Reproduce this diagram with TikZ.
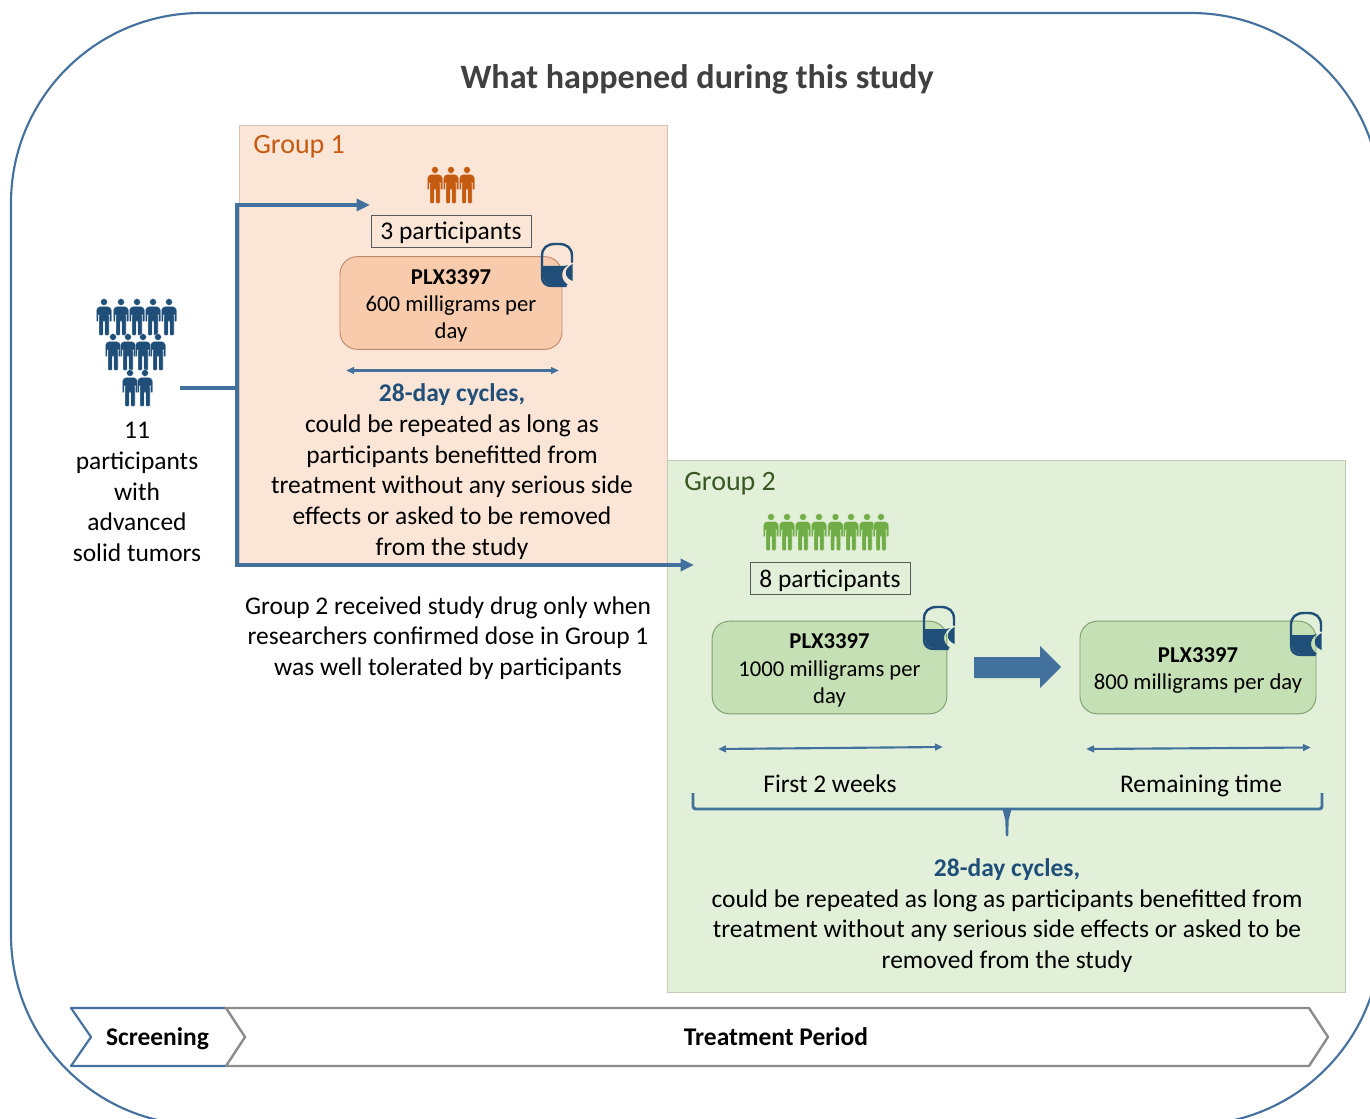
\documentclass[tikz,border=0pt]{standalone}
\usepackage{fontspec}
\setmainfont{Carlito}
\usetikzlibrary{arrows.meta}
\definecolor{linkblue}{HTML}{41719C}
\definecolor{darkblue}{HTML}{1F4E79}
\definecolor{frameblue}{HTML}{44719E}
\definecolor{orangebg}{HTML}{FBE5D6}
\definecolor{orangebox}{HTML}{F8CBAD}
\definecolor{orangeedge}{HTML}{BE8A6C}
\definecolor{orangeman}{HTML}{C55A11}
\definecolor{orangetxt}{HTML}{C55A11}
\definecolor{greenbg}{HTML}{E2F0D9}
\definecolor{greenbox}{HTML}{C5E0B4}
\definecolor{greenedge}{HTML}{7F9F6F}
\definecolor{greenman}{HTML}{70AD47}
\definecolor{greentxt}{HTML}{385723}
\definecolor{stepgray}{HTML}{8C8C8C}
\tikzset{
  x=0.75pt,y=-0.75pt,
  body/.style={font=\fontsize{19.1}{23}\selectfont,align=center,inner sep=0pt,text=black},
  titletext/.style={font=\fontsize{25.6}{28}\selectfont\bfseries,text=black!75,inner sep=0pt},
  grouptext/.style={font=\fontsize{21}{23}\selectfont,inner sep=0pt,anchor=west},
  countbox/.style={draw=black!65,line width=0.6pt,minimum width=120pt,minimum height=24pt,inner sep=0pt},
  dosebox/.style={rounded corners=13pt,line width=0.7pt,inner sep=0pt,minimum height=69.5pt},
  dosetext/.style={inner sep=0pt,align=center,font=\fontsize{17}{20.5}\selectfont},
  flow/.style={draw=linkblue,line width=3pt},
  span/.style={draw=linkblue,line width=1.6pt,{Triangle[length=6pt,width=5pt]}-{Triangle[length=6pt,width=5pt]}},
  person/.pic={
    \path[pic actions] (0,0) circle (3.4);
    \path[pic actions,rounded corners=0.8pt] (-7.6,20)--(-7.6,7)--(-5,4.5)--(5,4.5)--(7.6,7)--(7.6,20)--(5.6,20)--(5.6,13)--(5,13)--(5,33.5)--(0.8,33.5)--(0.8,19)--(-0.8,19)--(-0.8,33.5)--(-5,33.5)--(-5,13)--(-5.6,13)--(-5.6,20)--cycle;
  },
  cup/.pic={
    \draw[darkblue,line width=1.8pt,line cap=round] (30,18)--(30,12)..controls (30,4) and (25,0) .. (17,0)--(13,0)..controls (5,0) and (0,4) .. (0,12)--(0,33)..controls (0,39) and (4,42) .. (10,42)--(24,42);
    \fill[darkblue] (1,22)--(20,22)..controls (23,22) and (25,21.5) .. (26,21)..controls (18,27) and (18,35) .. (26,41)--(10,41)..controls (4,41) and (1,37) .. (1,32)--cycle;
    \fill[darkblue] (30.5,20)--(30.5,37)..controls (21.5,33) and (21.5,25) .. (30.5,20)--cycle;
  },
}
\begin{document}
\begin{tikzpicture}
\useasboundingbox (0,0) rectangle (1370,1119);
\begin{scope}
  \clip (0,0) rectangle (1370,1119);
  \draw[frameblue,line width=1.6pt,rounded corners=142.5pt] (11,13) rectangle (1381,1125);
\end{scope}
\node[titletext] (title) at (697,79.5) {What happened during this study};
% group panels
\path[fill=orangebg,draw=orangebg!85!black,line width=0.3pt] (239,125) rectangle (667,566);
\path[fill=greenbg,draw=greenbg!85!black,line width=0.3pt] (667,460) rectangle (1345,992);
\node[grouptext,text=orangetxt] (g1) at (253,147) {Group 1};
\node[grouptext,text=greentxt] (g2) at (684,484) {Group 2};
% people
\foreach \px/\py in {104/302,121/302,137/302,153/302,169/302,113/337,128/337,143/337,158/337,130/373,145/373}
  \pic[fill=darkblue,draw=white,line width=0.15pt] at (\px,\py) {person};
\foreach \px in {435,451,467}
  \pic[fill=orangeman,draw=orangebg,line width=0.15pt] at (\px,170) {person};
\foreach \px in {771,787,803,819,835.5,851,867,881}
  \pic[fill=greenman,draw=greenbg,line width=0.15pt] at (\px,517) {person};
\node[body] (pool) at (137,492) {11\\participants\\with\\advanced\\solid tumors};
% group 1 content
\node[countbox] (n1) at (451,231) {};
\node[body] (n1t) at (451,233) {3 participants};
\node[dosebox,fill=orangebox,draw=orangeedge,minimum width=166.5pt] (d1) at (451,303) {};
\node[dosetext] (d1t) at (451,306) {\textbf{PLX3397}\\600 milligrams per\\day};
\pic at (542,244) {cup};
\coordinate (s1a) at (346,370.5); \coordinate (s1b) at (559,370.5);
\draw[span] (s1a)--(s1b);
\node[body] (c1) at (452,471.5) {\textcolor{darkblue}{\textbf{28-day cycles,}}\\could be repeated as long as\\participants benefitted from\\treatment without any serious side\\effects or asked to be removed\\from the study};
\node[body] (note) at (448,638) {Group 2 received study drug only when\\researchers confirmed dose in Group 1\\was well tolerated by participants};
% group 2 content
\node[countbox] (n2) at (830,578) {};
\node[body] (n2t) at (830,580.5) {8 participants};
\node[dosebox,fill=greenbox,draw=greenedge,minimum width=176pt] (d2) at (829.5,667.5) {};
\node[dosetext] (d2t) at (829.5,670.5) {\textbf{PLX3397}\\1000 milligrams per\\day};
\node[dosebox,fill=greenbox,draw=greenedge,minimum width=177pt] (d3) at (1198,667.5) {};
\node[dosetext] (d3t) at (1198,670.5) {\textbf{PLX3397}\\800 milligrams per day};
\pic at (924,607) {cup};
\pic at (1291,613) {cup};
\fill[linkblue] (974,657)--(1040,657)--(1040,646)--(1061,667)--(1040,688)--(1040,678)--(974,678)--cycle;
\coordinate (s2a) at (718,749); \coordinate (s2b) at (943,747);
\coordinate (s3a) at (1086,749); \coordinate (s3b) at (1311,747.5);
\draw[span] (s2a)--(s2b);
\draw[span] (s3a)--(s3b);
\node[body,anchor=base] (t2) at (830,792) {First 2 weeks};
\node[body,anchor=base] (t3) at (1201,792) {Remaining time};
\coordinate (bl) at (693,793); \coordinate (br) at (1322,793); \coordinate (bm) at (1007,836);
\draw[linkblue,line width=2.2pt,rounded corners=2pt] (bl)--(bl|-0,809)--(br|-0,809)--(br);
\fill[linkblue] (1002.5,809)--(1011.5,809)--(1008.7,820)--(1008.2,836)--(1005.8,836)--(1005.3,820)--cycle;
\node[body] (c2) at (1007,915.5) {\textcolor{darkblue}{\textbf{28-day cycles,}}\\could be repeated as long as participants benefitted from\\treatment without any serious side effects or asked to be\\removed from the study};
% main connectors
\coordinate (src) at (180,388); \coordinate (top) at (370,205); \coordinate (low) at (694,565); \coordinate (trunk) at (237,388);
\draw[flow] (src)--(trunk);
\draw[flow,-{Triangle[length=10pt,width=9pt]}] (trunk)--(trunk|-top)--(top);
\draw[flow,-{Triangle[length=10pt,width=9pt]}] (trunk)--(trunk|-low)--(low);
% phases
\draw[stepgray,line width=1.8pt,fill=white,line join=round] (226,1008)--(1309,1008)--(1328,1037)--(1309,1066)--(226,1066)--(245,1037)--cycle;
\draw[frameblue,line width=1.6pt,line join=round] (225,1008)--(71,1008)--(91,1037)--(71,1066)--(225,1066);
\node[inner sep=0pt,font=\fontsize{19.1}{23}\selectfont\bfseries,anchor=base] (ph1) at (157.5,1045) {Screening};
\node[inner sep=0pt,font=\fontsize{19.1}{23}\selectfont\bfseries,anchor=base] (ph2) at (776,1045) {Treatment Period};
\end{tikzpicture}
\end{document}
